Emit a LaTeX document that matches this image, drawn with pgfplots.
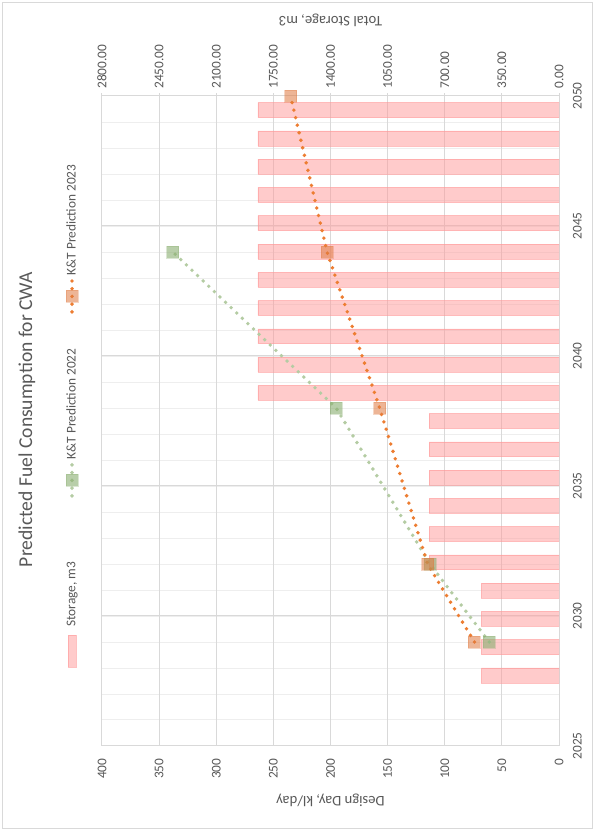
\documentclass[border=0pt]{standalone}
\usepackage{pgfplots}
\usepackage{pgfplotstable}
\pgfplotsset{compat=1.18}
\usepackage{fontspec}
\setmainfont{Carlito}

\definecolor{txt}{HTML}{595959}
\definecolor{gmaj}{HTML}{D9D9D9}
\definecolor{gmin}{HTML}{EEEEEE}
\definecolor{kt23}{HTML}{ED7D31}
\definecolor{kt23m}{HTML}{E07A40}
\definecolor{kt22}{HTML}{B4CCA3}
\definecolor{kt22m}{HTML}{8AAE70}
\definecolor{stor}{HTML}{FF9999}

% storage, one bar per category slot (23 slots spread over 2025-2050)
\pgfplotstableread{
slot storage
2027.717 475
2028.804 475
2029.891 475
2030.978 475
2032.065 795
2033.152 795
2034.239 795
2035.326 795
2036.413 795
2037.500 795
2038.587 1845
2039.674 1845
2040.761 1845
2041.848 1845
2042.935 1845
2044.022 1845
2045.109 1845
2046.196 1845
2047.283 1845
2048.370 1845
2049.457 1845
}\storagetab

% design day, kl/day
\pgfplotstableread{
year dd
2029 61
2032 113
2038 195
2044 338
}\ktA

\pgfplotstableread{
year dd
2029 74
2032 115
2038 157
2044 203
2050 235
}\ktB

\pgfplotsset{
  base/.style={
    scale only axis, width=487.5pt, height=342.75pt,
    xmin=2025, xmax=2050,
    tick label style={font=\fontsize{10}{12}\selectfont, color=txt},
    label style={font=\fontsize{11}{13}\selectfont, color=txt},
    /pgf/number format/assume math mode=true,
  },
  dotline/.style={line width=2.9pt, dash pattern=on 0pt off 5.8pt, line cap=round},
  linelegend/.style={legend image code/.code={
    \draw[##1, mark repeat=2, mark phase=2] plot coordinates {(0pt,0pt) (12pt,0pt) (24pt,0pt)};}},
}

\begin{document}
\begin{tikzpicture}[rotate=90, transform shape]
\fill[white] (-63.75pt,-27.75pt) rectangle (559.5pt,419.25pt);

% storage axis: grid, bars, right-hand scale
\begin{axis}[base,
  ymin=0, ymax=2800,
  axis line style={gmaj, line width=0.75pt},
  xtick={2025,2030,...,2050},
  minor xtick={2026,...,2049},
  ytick={0,350,...,2800},
  xtick pos=bottom, ytick pos=right,
  x tick style={draw=none},
  minor tick length=0pt,
  y tick style={gmaj, line width=0.75pt},
  major tick length=4pt, tick align=center,
  xticklabel style={/pgf/number format/1000 sep={}, yshift=-5pt},
  yticklabel style={/pgf/number format/.cd, fixed, fixed zerofill, precision=2, 1000 sep={}},
  xmajorgrids, xminorgrids, ymajorgrids,
  major grid style={gmaj, line width=0.75pt},
  minor grid style={gmin, line width=0.75pt},
  ylabel={Total Storage, m3},
  ylabel style={at={(axis description cs:1.117,0.5)}, anchor=center},
]
\addplot[ybar, bar width=0.57, fill=stor, fill opacity=0.5, draw=stor, draw opacity=0.6]
  table[x=slot, y=storage] {\storagetab};
\end{axis}

% design-day axis: predictions, left-hand scale, legend
\begin{axis}[base,
  ymin=0, ymax=400, ytick={0,50,...,400},
  hide x axis,
  axis y line*=left,
  y axis line style={draw=none},
  y tick style={draw=none},
  yticklabel style={xshift=-6pt},
  ylabel={Design Day, kl/day},
  ylabel style={at={(axis description cs:-0.083,0.5)}, anchor=center},
  title={Predicted Fuel Consumption for CWA},
  title style={at={(axis description cs:0.502,1.1466)}, anchor=center,
    font=\fontsize{14.7}{17}\selectfont, color=txt},
  legend style={at={(axis description cs:0.51,1.0656)}, anchor=center,
    draw=none, fill=none, legend columns=3,
    font=\fontsize{10}{12}\selectfont, text=txt,
    /tikz/column 1/.style={column sep=4pt},
    /tikz/column 2/.style={column sep=46pt},
    /tikz/column 4/.style={column sep=24pt}},
]
\addlegendimage{legend image code/.code={\draw[fill=stor, fill opacity=0.5, draw=stor, draw opacity=0.6] (0pt,-3pt) rectangle (24pt,3pt);}}
\addlegendentry{Storage, m3}
\addplot[kt22, dotline, linelegend, mark=square*, mark size=4.5pt,
  mark options={solid, line width=0.5pt, draw=kt22m, draw opacity=0.3, fill=kt22m, fill opacity=0.6}]
  table[x=year, y=dd] {\ktA};
\addlegendentry{K\&T Prediction 2022}
\addplot[kt23, dotline, linelegend, mark=square*, mark size=4.5pt,
  mark options={solid, line width=0.5pt, draw=kt23m, draw opacity=0.3, fill=kt23m, fill opacity=0.55}]
  table[x=year, y=dd] {\ktB};
\addlegendentry{K\&T Prediction 2023}
\end{axis}

\draw[gmaj, line width=0.75pt] (-61.5pt,-24.75pt) rectangle (557.25pt,417pt);
\pgfresetboundingbox
\path (-63.75pt,-27.75pt) rectangle (559.5pt,419.25pt);
\end{tikzpicture}
\end{document}
